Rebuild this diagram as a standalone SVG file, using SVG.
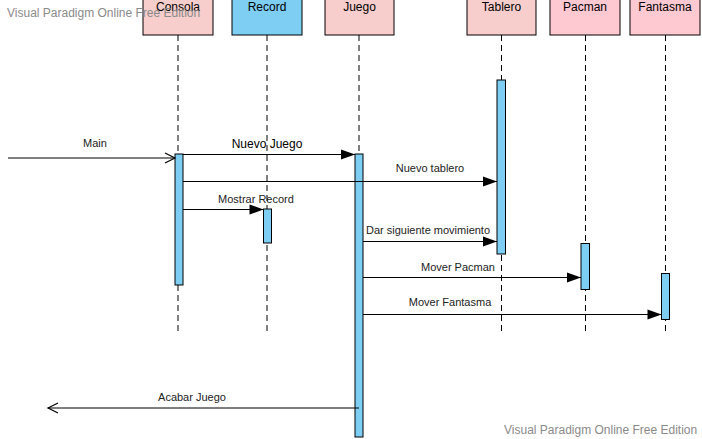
<svg xmlns="http://www.w3.org/2000/svg" width="702" height="439" viewBox="0 0 702 439">
<style>
text{font-family:"Liberation Sans",Arial,sans-serif}
.head{stroke:#000;stroke-width:1}
.hl{font-size:12px;fill:#000;text-anchor:middle}
.life{stroke:#000;stroke-width:1;stroke-dasharray:6,4;fill:none}
.act{fill:#7ECEF4;stroke:#000;stroke-width:1}
.msg{stroke:#000;stroke-width:1.2;fill:none}
.ml{font-size:11px;fill:#222;text-anchor:middle}
.wm{font-size:12px;fill:#8a8a8a}
</style>
<defs>
<marker id="fa" markerUnits="userSpaceOnUse" markerWidth="16" markerHeight="14" refX="15" refY="7" orient="auto">
<path d="M1,2 L15,7 L1,12 Z" fill="#000"/>
</marker>
<marker id="oa" markerUnits="userSpaceOnUse" markerWidth="14" markerHeight="14" refX="12" refY="7" orient="auto">
<path d="M2,2 L12,7 L2,12" fill="none" stroke="#000" stroke-width="1.2"/>
</marker>
</defs>
<rect width="702" height="439" fill="#fff"/>
<g id="consola">
<rect class="head" x="143" y="-5" width="70" height="40" fill="#F8CECC"/>
<text class="hl" x="178" y="11">Consola</text>
<line class="life" x1="178" y1="35" x2="178" y2="334"/>
<rect class="act" x="175" y="154" width="8" height="131"/>
</g>
<g id="record">
<rect class="head" x="232" y="-5" width="70" height="40" fill="#7ECEF4"/>
<text class="hl" x="267" y="11">Record</text>
<line class="life" x1="267" y1="35" x2="267" y2="334"/>
<rect class="act" x="263.5" y="209" width="8" height="34"/>
</g>
<g id="juego">
<rect class="head" x="325" y="-5" width="69" height="40" fill="#F8CECC"/>
<text class="hl" x="359.5" y="11">Juego</text>
<line class="life" x1="359" y1="35" x2="359" y2="334"/>
<rect class="act" x="355" y="154" width="8" height="283"/>
</g>
<g id="tablero">
<rect class="head" x="467" y="-5" width="69" height="40" fill="#F8CECC"/>
<text class="hl" x="501.5" y="11">Tablero</text>
<line class="life" x1="501.5" y1="35" x2="501.5" y2="334"/>
<rect class="act" x="497" y="80" width="8.5" height="174"/>
</g>
<g id="pacman">
<rect class="head" x="550" y="-5" width="70" height="40" fill="#FFC9D2"/>
<text class="hl" x="585" y="11">Pacman</text>
<line class="life" x1="585.5" y1="35" x2="585.5" y2="334"/>
<rect class="act" x="581" y="243.5" width="8.5" height="46"/>
</g>
<g id="fantasma">
<rect class="head" x="630" y="-5" width="70" height="40" fill="#FFC9D2"/>
<text class="hl" x="665" y="11">Fantasma</text>
<line class="life" x1="665.5" y1="35" x2="665.5" y2="334"/>
<rect class="act" x="661.5" y="273.5" width="8" height="46"/>
</g>
<g id="connectors">
<line class="msg" x1="8" y1="158" x2="175" y2="158" marker-end="url(#oa)"/>
<text class="ml" x="95" y="147">Main</text>
<line class="msg" x1="183" y1="154.5" x2="355" y2="154.5" marker-end="url(#fa)"/>
<text class="ml" x="267" y="148" style="font-size:12px;fill:#000">Nuevo Juego</text>
<line class="msg" x1="183" y1="181.5" x2="497" y2="181.5" marker-end="url(#fa)"/>
<text class="ml" x="430" y="172">Nuevo tablero</text>
<line class="msg" x1="183" y1="209.5" x2="263.5" y2="209.5" marker-end="url(#fa)"/>
<text class="ml" x="256" y="203">Mostrar Record</text>
<line class="msg" x1="363" y1="241.5" x2="497" y2="241.5" marker-end="url(#fa)"/>
<text class="ml" x="428" y="234">Dar siguiente movimiento</text>
<line class="msg" x1="363" y1="277.5" x2="581" y2="277.5" marker-end="url(#fa)"/>
<text class="ml" x="458" y="271">Mover Pacman</text>
<line class="msg" x1="363" y1="314.5" x2="661.5" y2="314.5" marker-end="url(#fa)"/>
<text class="ml" x="450" y="306">Mover Fantasma</text>
<line class="msg" x1="359" y1="408" x2="48" y2="408" marker-end="url(#oa)"/>
<text class="ml" x="192" y="401">Acabar Juego</text>
</g>
<text class="wm" x="7" y="17">Visual Paradigm Online Free Edition</text>
<text class="wm" x="504" y="434">Visual Paradigm Online Free Edition</text>
</svg>
